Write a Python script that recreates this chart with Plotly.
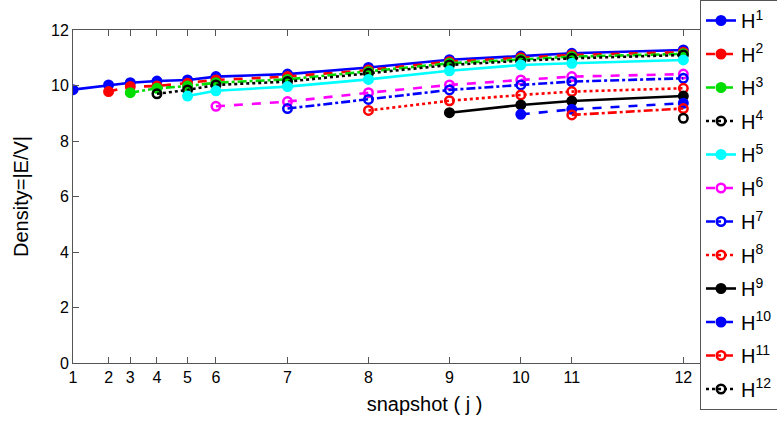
import plotly.graph_objects as go

# snapshot labels and their (non-uniform) positions along the horizontal axis
snapshots = [1, 2, 3, 4, 5, 6, 7, 8, 9, 10, 11, 12]
snapshot_time = [0, 35.6, 57.3, 84, 114.6, 143, 214.6, 295.6, 376.6, 448, 499, 610.6]

H1 = [9.85, 10.02, 10.10, 10.16, 10.20, 10.32, 10.41, 10.65, 10.93, 11.06, 11.16, 11.28]
H2 = [9.78, 9.96, 9.98, 10.08, 10.20, 10.32, 10.56, 10.86, 11.00, 11.10, 11.20]
H3 = [9.74, 9.90, 9.98, 10.10, 10.22, 10.50, 10.80, 10.94, 11.04, 11.14]
H4 = [9.70, 9.84, 10.02, 10.14, 10.44, 10.74, 10.89, 10.98, 11.10]
H5 = [9.62, 9.81, 9.96, 10.22, 10.53, 10.74, 10.80, 10.92]
H6 = [9.25, 9.42, 9.74, 10.02, 10.20, 10.32, 10.41]
H7 = [9.17, 9.50, 9.84, 10.02, 10.14, 10.26]
H8 = [9.10, 9.45, 9.66, 9.78, 9.90]
H9 = [9.02, 9.30, 9.44, 9.62]
H10 = [8.96, 9.14, 9.36]
H11 = [8.94, 9.17]
H12 = [8.82]

series = [H1, H2, H3, H4, H5, H6, H7, H8, H9, H10, H11, H12]
names = ["H<sup>%d</sup>" % k for k in range(1, 13)]
colors = ["#0000ff", "#ff0000", "#00dd00", "#000000", "#00ffff", "#ff00ff",
          "#0000ff", "#ff0000", "#000000", "#0000ff", "#ff0000", "#000000"]
dashes = ["solid", "dash", "dashdot", "dot"] * 3
open_marker = [False, False, False, True, False, True, True, True, False, False, True, True]

fig = go.Figure()
for k, vals in enumerate(series):
    start = len(snapshot_time) - len(vals)
    sym = "circle-open" if open_marker[k] else "circle"
    fig.add_trace(go.Scatter(
        x=snapshot_time[start:], y=vals, name=names[k], mode="lines+markers",
        legendgroup="g%d" % k,
        line=dict(color=colors[k], width=2.6, dash=dashes[k]),
        marker=dict(symbol=sym, size=8.5, color=colors[k],
                    line=dict(color=colors[k], width=2.5)),
    ))

axis_common = dict(showline=True, linecolor="#555555", linewidth=1, mirror="ticks",
                   ticks="inside", ticklen=6, tickcolor="#555555", showgrid=False,
                   zeroline=False, automargin=False, tickfont=dict(size=16, color="black"))

fig.update_layout(
    width=777, height=421,
    margin=dict(l=73, r=1, t=30, b=58, autoexpand=False),
    paper_bgcolor="white", plot_bgcolor="white",
    font=dict(family="Liberation Sans, Arial, sans-serif", color="black"),
    xaxis=dict(range=[0, 703.3], tickvals=snapshot_time, ticktext=[str(s) for s in snapshots],
               title=dict(text="snapshot ( j )", font=dict(size=20), standoff=11),
               **axis_common),
    yaxis=dict(range=[0, 12], tickvals=[0, 2, 4, 6, 8, 10, 12],
               title=dict(text="Density=|E/V|", font=dict(size=20), standoff=17),
               **axis_common),
    legend=dict(x=700 / 777, xref="container", y=1.008, yref="container",
                xanchor="left", yanchor="top",
                bgcolor="white", bordercolor="#555555", borderwidth=1,
                font=dict(size=20, color="black"), tracegroupgap=4.5,
                itemwidth=30, maxheight=440),
    showlegend=True,
)

fig.write_html("out.html", config={"displayModeBar": False},
               post_script="document.body.style.margin='0';")
